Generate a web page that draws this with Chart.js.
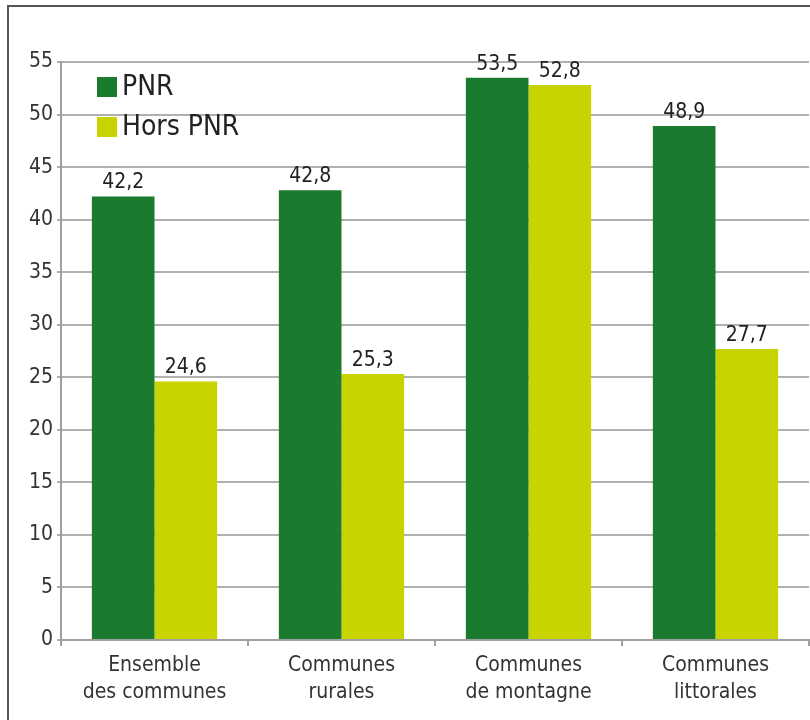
<!DOCTYPE html>
<html>
<head>
<meta charset="utf-8">
<script src="https://cdn.jsdelivr.net/npm/chart.js@4/dist/chart.umd.min.js"></script>
<style>
  html, body { margin: 0; padding: 0; background: #fff; }
  #wrap { width: 810px; height: 720px; position: relative; }
</style>
</head>
<body>
<div id="wrap"><canvas id="chart" width="810" height="720"></canvas></div>
<script>
// categories (two-line labels)
var categories = [
    ['Ensemble', 'des communes'],
    ['Communes', 'rurales'],
    ['Communes', 'de montagne'],
    ['Communes', 'littorales']
];
var pnrValues = [42.2, 42.8, 53.5, 48.9];
var horsPnrValues = [24.6, 25.3, 52.8, 27.7];
var yTicks = [0, 5, 10, 15, 20, 25, 30, 35, 40, 45, 50, 55];

var FONT = '"DejaVu Sans Condensed", "DejaVu Sans", sans-serif';

// cadre gris autour du graphique
var framePlugin = {
    id: 'frame',
    beforeDraw: function(chart) {
        var c = chart.ctx;
        c.save();
        c.strokeStyle = '#555';
        c.lineWidth = 2;
        c.beginPath();
        c.moveTo(8, 720);
        c.lineTo(8, 6);
        c.lineTo(810, 6);
        c.stroke();
        c.restore();
    }
};

// valeurs au-dessus des barres
var valuePlugin = {
    id: 'values',
    afterDatasetsDraw: function(chart) {
        var c = chart.ctx;
        c.save();
        c.font = '21px ' + FONT;
        c.fillStyle = '#222';
        c.textAlign = 'center';
        c.textBaseline = 'bottom';
        chart.data.datasets.forEach(function(ds, i) {
            chart.getDatasetMeta(i).data.forEach(function(bar, j) {
                c.fillText(ds.data[j].toFixed(1).replace('.', ','), bar.x, bar.y - 3);
            });
        });
        c.restore();
    }
};

// légende dans la zone du graphique
var legendPlugin = {
    id: 'insideLegend',
    afterDraw: function(chart) {
        var c = chart.ctx;
        var x = chart.chartArea.left + 36;
        var y = chart.chartArea.top + 15;
        c.save();
        c.font = '28px ' + FONT;
        c.textBaseline = 'middle';
        chart.data.datasets.forEach(function(ds, i) {
            var yy = y + i * 40;
            c.fillStyle = ds.backgroundColor;
            c.fillRect(x, yy, 20, 20);
            c.fillStyle = '#222';
            c.fillText(ds.label, x + 25, yy + 11);
        });
        c.restore();
    }
};

var ctx = document.getElementById('chart').getContext('2d');
new Chart(ctx, {
    type: 'bar',
    data: {
        labels: categories,
        datasets: [
            { label: 'PNR', data: pnrValues, backgroundColor: '#1a7a2e', borderWidth: 0 },
            { label: 'Hors PNR', data: horsPnrValues, backgroundColor: '#c8d400', borderWidth: 0 }
        ]
    },
    options: {
        animation: false,
        responsive: false,
        maintainAspectRatio: false,
        layout: { padding: { top: 62, right: 1, left: 0, bottom: 0 } },
        datasets: {
            bar: { categoryPercentage: 0.67, barPercentage: 1.0 }
        },
        scales: {
            y: {
                min: 0,
                max: 55,
                afterBuildTicks: function(scale) {
                    scale.ticks = yTicks.map(function(v) { return { value: v }; });
                },
                afterFit: function(scale) { scale.width = 61; },
                border: { color: '#a0a0a0', width: 2 },
                grid: { color: '#b0b0b0', lineWidth: 2, tickLength: 4 },
                ticks: { color: '#333', font: { family: FONT, size: 21 }, padding: 4 }
            },
            x: {
                afterFit: function(scale) { scale.height = 80; },
                border: { color: '#a0a0a0', width: 2 },
                grid: { display: true, drawOnChartArea: false, offset: true, color: '#a0a0a0', lineWidth: 2, tickLength: 6 },
                ticks: { color: '#333', font: { family: FONT, size: 21, lineHeight: 1.3 }, padding: 6, maxRotation: 0 }
            }
        },
        plugins: {
            legend: { display: false },
            tooltip: { enabled: false }
        }
    },
    plugins: [framePlugin, valuePlugin, legendPlugin]
});
</script>
</body>
</html>
